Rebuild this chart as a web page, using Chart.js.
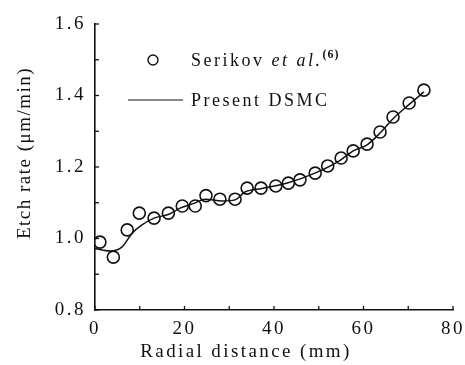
<!DOCTYPE html>
<html>
<head>
<meta charset="utf-8">
<script src="https://cdn.jsdelivr.net/npm/chart.js@4/dist/chart.umd.min.js"></script>
<style>
  html, body { margin: 0; padding: 0; background: #fff; }
  #wrap { width: 465px; height: 365px; }
</style>
</head>
<body>
<div id="wrap"><canvas id="chart"></canvas></div>
<script>
// Serikov et al. measurements
const serikovRadius = [1.1, 4.1, 7.2, 9.9, 13.2, 16.4, 19.5, 22.4, 24.8, 27.9, 31.3, 34, 37.1, 40.4, 43.2, 45.8, 49.2, 52, 55, 57.7, 60.8, 63.7, 66.6, 70.2, 73.5];
const serikovRate = [0.99, 0.948, 1.024, 1.071, 1.057, 1.071, 1.091, 1.091, 1.12, 1.11, 1.11, 1.141, 1.141, 1.147, 1.155, 1.164, 1.183, 1.203, 1.225, 1.245, 1.264, 1.298, 1.34, 1.379, 1.415];

// present DSMC curve
const dsmcRadius = [0, 3.4, 6, 8.3, 10.5, 13.2, 16.5, 19, 22.3, 24.6, 28.4, 31.3, 33.5, 37.3, 43, 49, 54.7, 57.7, 60.8, 63.7, 66.6, 70.2, 73.5];
const dsmcRate = [0.972, 0.965, 0.976, 1.015, 1.038, 1.057, 1.068, 1.085, 1.099, 1.11, 1.105, 1.108, 1.13, 1.14, 1.155, 1.182, 1.218, 1.245, 1.262, 1.295, 1.335, 1.375, 1.41];

const xMin = 0, xMax = 80, xStep = 10, xLabelStep = 20;
const yMin = 0.8, yMax = 1.6, yStep = 0.1, yLabelStep = 0.2;

const xTitle = "Radial distance (mm)";
const yTitle = "Etch rate (\u03bcm/min)";

const ink = "#111";
const serif = "'Liberation Serif', 'DejaVu Serif', serif";

function toPoints(xs, ys) {
    return xs.map(function(x, i) { return { x: x, y: ys[i] }; });
}

// spaced-out lettering like the scanned figure
const spacing = {
    id: "spacing",
    beforeUpdate: function(chart) { chart.ctx.letterSpacing = "2.5px"; },
    beforeDraw: function(chart) { chart.ctx.letterSpacing = "2.5px"; }
};

// small inward tick marks on both axes
const innerTicks = {
    id: "innerTicks",
    afterDraw: function(chart) {
        const ctx = chart.ctx;
        const x = chart.scales.x, y = chart.scales.y;
        const area = chart.chartArea;
        ctx.save();
        ctx.strokeStyle = ink;
        ctx.lineWidth = 1.3;
        x.ticks.forEach(function(t) {
            const px = x.getPixelForValue(t.value);
            ctx.beginPath();
            ctx.moveTo(px, area.bottom);
            ctx.lineTo(px, area.bottom - 4);
            ctx.stroke();
        });
        y.ticks.forEach(function(t) {
            const py = y.getPixelForValue(t.value);
            ctx.beginPath();
            ctx.moveTo(area.left, py);
            ctx.lineTo(area.left + 4, py);
            ctx.stroke();
        });
        ctx.restore();
    }
};

// axis titles, placed like the original figure
const axisTitles = {
    id: "axisTitles",
    afterDraw: function(chart) {
        const ctx = chart.ctx;
        ctx.save();
        ctx.fillStyle = ink;
        ctx.font = "19px " + serif;
        ctx.textAlign = "center";
        ctx.textBaseline = "alphabetic";
        ctx.letterSpacing = "2.4px";
        ctx.fillText(xTitle, 246, 357);

        ctx.translate(30, 153);
        ctx.rotate(-Math.PI / 2);
        ctx.letterSpacing = "1.5px";
        ctx.fillText(yTitle, 0, 0);
        ctx.restore();
    }
};

// legend with italic "et al." and superscript reference
const legendBox = {
    id: "legendBox",
    afterDraw: function(chart) {
        const ctx = chart.ctx;
        ctx.save();
        ctx.letterSpacing = "2.5px";
        ctx.fillStyle = ink;
        ctx.strokeStyle = ink;
        ctx.textBaseline = "alphabetic";

        ctx.lineWidth = 1.4;
        ctx.beginPath();
        ctx.arc(153, 60, 5, 0, Math.PI * 2);
        ctx.stroke();

        let tx = 191;
        ctx.font = "18px " + serif;
        ctx.fillText("Serikov ", tx, 66);
        tx += ctx.measureText("Serikov ").width;
        ctx.font = "italic 18px " + serif;
        ctx.fillText("et al.", tx, 66);
        tx += ctx.measureText("et al.").width;
        ctx.font = "bold 12px " + serif;
        ctx.letterSpacing = "1px";
        ctx.fillText("(6)", tx, 58);

        ctx.lineWidth = 1.2;
        ctx.beginPath();
        ctx.moveTo(128, 100);
        ctx.lineTo(183, 100);
        ctx.stroke();

        ctx.letterSpacing = "2.5px";
        ctx.font = "18px " + serif;
        ctx.fillText("Present DSMC", 191, 106);
        ctx.restore();
    }
};

const ctx = document.getElementById("chart").getContext("2d");

new Chart(ctx, {
    type: "scatter",
    data: {
        datasets: [{
            label: "Present DSMC",
            data: toPoints(dsmcRadius, dsmcRate),
            showLine: true,
            borderColor: ink,
            borderWidth: 1.5,
            pointRadius: 0,
            cubicInterpolationMode: "monotone",
            fill: false
        }, {
            label: "Serikov et al.",
            data: toPoints(serikovRadius, serikovRate),
            showLine: false,
            pointStyle: "circle",
            pointRadius: 6,
            pointBorderWidth: 1.6,
            pointBorderColor: ink,
            pointBackgroundColor: "rgba(0,0,0,0)"
        }]
    },
    options: {
        responsive: true,
        maintainAspectRatio: false,
        animation: false,
        layout: { padding: { top: 24, right: 4, left: 0, bottom: 0 } },
        plugins: {
            legend: { display: false },
            tooltip: { enabled: false }
        },
        scales: {
            x: {
                type: "linear",
                min: xMin,
                max: xMax,
                afterFit: function(scale) { scale.height = 55; },
                border: { display: true, color: ink, width: 1.6 },
                grid: { display: false },
                ticks: {
                    stepSize: xStep,
                    autoSkip: false,
                    maxRotation: 0,
                    padding: 0,
                    color: ink,
                    font: { family: serif, size: 19 },
                    callback: function(v) { return v % xLabelStep === 0 ? String(v) : ""; }
                }
            },
            y: {
                type: "linear",
                min: yMin,
                max: yMax,
                afterFit: function(scale) { scale.width = 95; },
                border: { display: true, color: ink, width: 1.6 },
                grid: { display: false },
                ticks: {
                    stepSize: yStep,
                    autoSkip: false,
                    padding: 1,
                    color: ink,
                    font: { family: serif, size: 19 },
                    callback: function(v) {
                        const k = Math.round(v * 10);
                        return k % Math.round(yLabelStep * 10) === 0 ? v.toFixed(1) : "";
                    }
                }
            }
        }
    },
    plugins: [spacing, innerTicks, axisTitles, legendBox]
});
</script>
</body>
</html>
